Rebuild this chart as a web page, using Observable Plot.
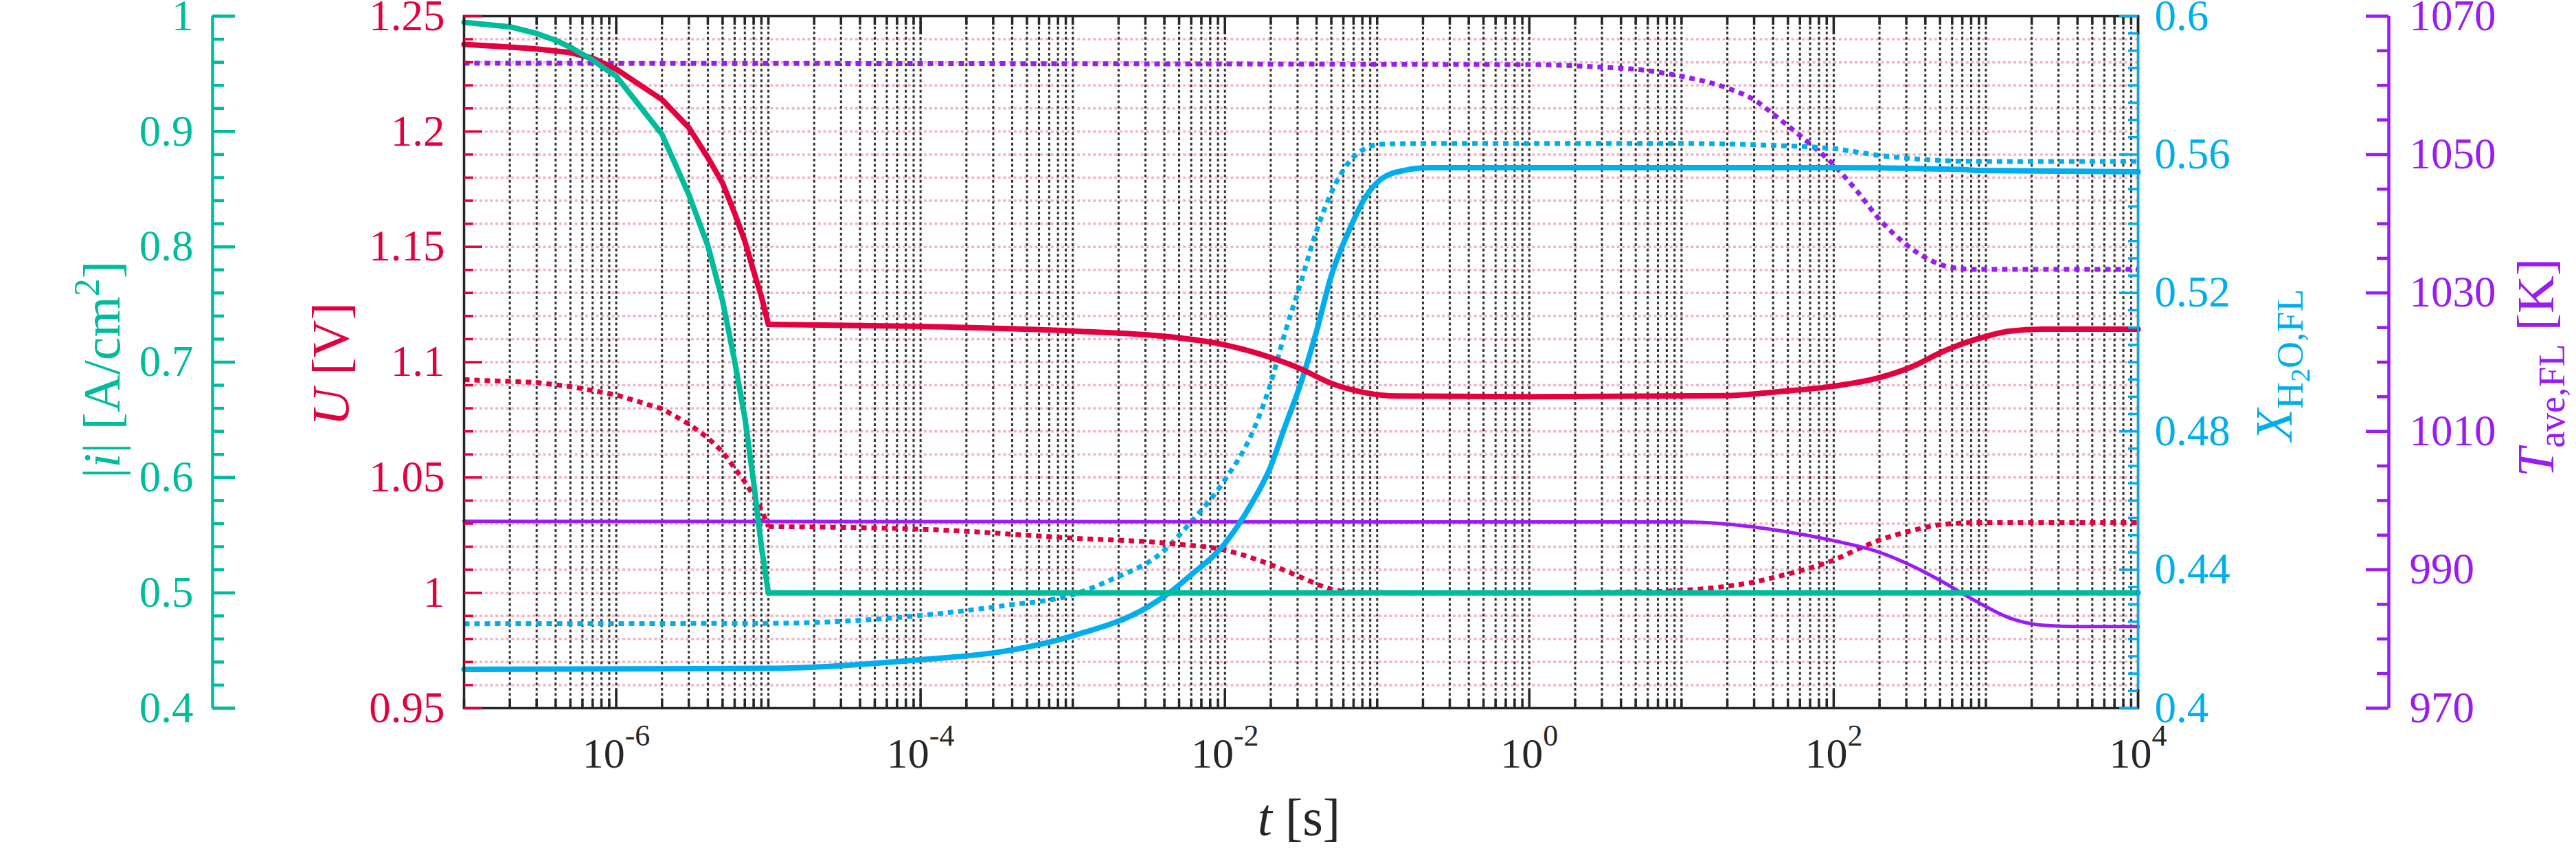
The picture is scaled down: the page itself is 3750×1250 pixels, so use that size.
<!DOCTYPE html>
<html><head><meta charset="utf-8">
<script src="https://cdn.jsdelivr.net/npm/d3@7"></script>
<script src="https://cdn.jsdelivr.net/npm/@observablehq/plot@0.6"></script>
<style>body{margin:0;background:#fff} svg{display:block}</style>
</head><body><div id="chart"></div>
<script>
// ---------- data ----------
// |i| [A/cm2] (solid)
const tI    = [1e-7, 2e-7, 3e-7, 4e-7, 5e-7, 6e-7, 7e-7, 8e-7, 9e-7, 1e-6, 2e-6, 3e-6, 4e-6, 5e-6, 6e-6, 7e-6, 8e-6, 9e-6, 1e-5, 1e-3, 1e4];
const iVals = [0.9946, 0.9908, 0.985, 0.979, 0.973, 0.967, 0.962, 0.9565, 0.952, 0.948, 0.8975, 0.8453, 0.801, 0.753, 0.701, 0.652, 0.596, 0.540, 0.500, 0.500, 0.500];
// U [V] solid
const tU    = [1e-7, 2e-7, 3e-7, 5e-7, 7e-7, 1e-6, 2e-6, 3e-6, 4e-6, 5e-6, 6e-6, 7e-6, 8e-6, 9e-6, 1e-5, 1e-4, 1e-3, 4.3e-3, 1e-2, 1.86e-2, 3.1e-2, 5e-2, 8.3e-2, 0.135, 1, 20, 43.6, 100, 195, 324, 525, 870, 1445, 2340, 1e4];
const uVals = [1.2378, 1.2366, 1.2358, 1.2342, 1.2318, 1.227, 1.2138, 1.2017, 1.1887, 1.1776, 1.1646, 1.1525, 1.1394, 1.1284, 1.1164, 1.1155, 1.1135, 1.111, 1.1075, 1.1027, 1.0973, 1.0908, 1.0868, 1.0853, 1.085, 1.0855, 1.0872, 1.0896, 1.0931, 1.0979, 1.1047, 1.110, 1.1135, 1.1143, 1.1143];
// U [V] dotted
const tUd    = [1e-7, 3e-7, 5e-7, 7e-7, 1e-6, 2e-6, 3e-6, 4e-6, 5e-6, 6e-6, 7e-6, 8e-6, 9e-6, 1e-5, 1e-4, 1e-3, 4.3e-3, 1e-2, 1.86e-2, 3.1e-2, 5e-2, 7e-2, 0.2, 1, 6, 20, 29.5, 43.6, 66, 100, 145, 195, 324, 525, 870, 1e4];
const udVals = [1.0924, 1.0912, 1.0894, 1.0877, 1.0858, 1.0798, 1.0732, 1.0672, 1.0611, 1.0541, 1.0481, 1.042, 1.036, 1.0287, 1.0276, 1.0237, 1.0214, 1.0185, 1.013, 1.007, 1.0016, 1.0003, 1.0, 1.0, 1.0005, 1.0029, 1.0046, 1.0072, 1.0103, 1.0142, 1.019, 1.0226, 1.0269, 1.0297, 1.0304, 1.0304];
// X_H2O,FL solid
const tX    = [1e-7, 1e-5, 1e-4, 3.5e-4, 1e-3, 3.1e-3, 4.3e-3, 5.8e-3, 1e-2, 1.48e-2, 1.97e-2, 2.5e-2, 3.1e-2, 4e-2, 5e-2, 6.5e-2, 8.3e-2, 0.107, 0.15, 0.22, 100, 700, 870, 1e4];
const xVals = [0.4112, 0.4115, 0.414, 0.4164, 0.4209, 0.4292, 0.4333, 0.438, 0.4476, 0.4588, 0.4692, 0.4818, 0.493, 0.509, 0.525, 0.5378, 0.5474, 0.553, 0.5554, 0.5562, 0.5562, 0.5557, 0.5554, 0.555];
// X_H2O,FL dotted
const tXd    = [1e-7, 1e-5, 1e-4, 3.5e-4, 1e-3, 1.8e-3, 3.9e-3, 5.9e-3, 1e-2, 1.48e-2, 1.97e-2, 2.5e-2, 3.1e-2, 4e-2, 5e-2, 6.5e-2, 8.3e-2, 0.107, 0.22, 10, 31.6, 100, 195, 417, 870, 1e4];
const xdVals = [0.4244, 0.4245, 0.4268, 0.4296, 0.4328, 0.4372, 0.4452, 0.4535, 0.466, 0.4787, 0.493, 0.509, 0.522, 0.538, 0.549, 0.5577, 0.5617, 0.563, 0.5632, 0.5632, 0.5628, 0.5617, 0.5598, 0.5585, 0.558, 0.558];
// T_ave,FL solid
const tT    = [1e-7, 10, 20, 29.5, 66, 100, 195, 324, 525, 870, 1445, 2340, 4000, 1e4];
const tVals = [997.0, 996.9, 996.6, 996.2, 995.0, 994.2, 992.6, 990.6, 988.2, 985.4, 983.0, 982.0, 981.8, 981.8];
// T_ave,FL dotted
const tTd    = [1e-7, 1, 2.6, 5.6, 10, 20, 29.5, 43.6, 66, 100, 145, 195, 288, 417, 589, 870, 1e4];
const tdVals = [1063.2, 1063.0, 1062.7, 1062.2, 1061.3, 1059.6, 1058.0, 1055.2, 1052.0, 1048.5, 1044.5, 1040.9, 1037.3, 1034.9, 1033.7, 1033.4, 1033.4];

// axis ticks / labels
const xLabelExps   = [-6, -4, -2, 0, 2, 4];
const xDecadeExps  = [-7, -6, -5, -4, -3, -2, -1, 0, 1, 2, 3];
const xMantissas   = [1, 2, 3, 4, 5, 6, 7, 8, 9];
const uMajor = [0.95, 1, 1.05, 1.1, 1.15, 1.2, 1.25];
const iMajor = [0.4, 0.5, 0.6, 0.7, 0.8, 0.9, 1];
const xMajor = [0.4, 0.44, 0.48, 0.52, 0.56, 0.6];
const tMajor = [970, 990, 1010, 1030, 1050, 1070];
const uMinorStep = 0.01, iMinorStep = 0.02, xMinorStep = 0.005, tMinorStep = 5;

// ---------- helpers ----------
const U_DOM = [0.95, 1.25], I_DOM = [0.4, 1], X_DOM = [0.4, 0.6], T_DOM = [970, 1070];
const toU = (v, dom) => U_DOM[0] + (v - dom[0]) / (dom[1] - dom[0]) * (U_DOM[1] - U_DOM[0]);
const rows = (ts, vs) => ts.map((t, k) => ({t, v: vs[k]}));
const range = (dom, step) => d3.range(Math.round((dom[1] - dom[0]) / step) + 1).map(k => +(dom[0] + k * step).toFixed(6));

const C_GREEN = "#00bc9c", C_RED = "#e4003f", C_CYAN = "#00aeef", C_PURPLE = "#9a1cf2", C_PINK = "#f4b2c6", C_BLACK = "#262626";
const FONT = "'Liberation Serif', 'Times New Roman', serif";

const W = 3750, H = 1250, ML = 675, MR = 638, MT = 23, MB = 220;
const PW = W - ML - MR, PH = H - MT - MB;

const xAll = [];
for (const e of xDecadeExps) for (const m of xMantissas) xAll.push(m * Math.pow(10, e));
const xLabelVals = xLabelExps.map(e => Math.pow(10, e));
const xGrid = xAll.filter(v => v > 1.0001e-7);
const xMinorTicks = xAll.filter(v => !xLabelVals.some(l => Math.abs(v / l - 1) < 1e-6));

const uMinor = range(U_DOM, uMinorStep).filter(v => !uMajor.some(m => Math.abs(m - v) < 1e-9));
const uGrid = range(U_DOM, uMinorStep).filter(v => v > 0.951 && v < 1.249);
const iMinor = range(I_DOM, iMinorStep).filter(v => !iMajor.some(m => Math.abs(m - v) < 1e-9));
const xMinor = range(X_DOM, xMinorStep).filter(v => !xMajor.some(m => Math.abs(m - v) < 1e-9));
const tMinor = range(T_DOM, tMinorStep).filter(v => !tMajor.some(m => Math.abs(m - v) < 1e-9));

const green = rows(tI, iVals).map(d => ({t: d.t, y: toU(d.v, I_DOM)}));
const redS  = rows(tU, uVals).map(d => ({t: d.t, y: d.v}));
const redD  = rows(tUd, udVals).map(d => ({t: d.t, y: d.v}));
const cyanS = rows(tX, xVals).map(d => ({t: d.t, y: toU(d.v, X_DOM)}));
const cyanD = rows(tXd, xdVals).map(d => ({t: d.t, y: toU(d.v, X_DOM)}));
const purS  = rows(tT, tVals).map(d => ({t: d.t, y: toU(d.v, T_DOM)}));
const purD  = rows(tTd, tdVals).map(d => ({t: d.t, y: toU(d.v, T_DOM)}));

const early = d => d.t <= 1.0001e-5, late = d => d.t >= 0.9999e-5;
const DOTTED = {strokeWidth: 7, strokeDasharray: "8,7", strokeLinecap: "butt", strokeLinejoin: "miter"};
const lineTwo = (data, opts) => [
  Plot.line(data.filter(early), {x: "t", y: "y", curve: "linear", ...opts}),
  Plot.line(data.filter(late), {x: "t", y: "y", curve: "monotone-x", ...opts})
];

const GX = 309 - ML;           // green axis offset
const PX = 3477 - (W - MR);    // purple axis offset
const FS = 63;

const fmt = v => String(v);
const txt = {fontFamily: FONT, fontSize: FS};

const chart = Plot.plot({
  width: W, height: H,
  marginLeft: ML, marginRight: MR, marginTop: MT, marginBottom: MB,
  x: {type: "log", domain: [1e-7, 1e4], axis: null},
  y: {domain: U_DOM, axis: null},
  style: {fontFamily: FONT, fontSize: FS + "px", background: "#fff", overflow: "visible"},
  marks: [
    // grid
    Plot.ruleY(uGrid, {stroke: C_PINK, strokeWidth: 3.5, strokeDasharray: "4,3.7"}),
    Plot.ruleX(xGrid, {stroke: "#333", strokeWidth: 3, strokeDasharray: "4,3.7"}),
    // dotted series
    Plot.line(purD, {x: "t", y: "y", curve: "monotone-x", stroke: C_PURPLE, ...DOTTED}),
    Plot.line(cyanD, {x: "t", y: "y", curve: "monotone-x", stroke: C_CYAN, ...DOTTED}),
    ...lineTwo(redD, {stroke: C_RED, ...DOTTED}),
    // solid series
    Plot.line(purS, {x: "t", y: "y", curve: "monotone-x", stroke: C_PURPLE, strokeWidth: 5}),
    Plot.line(cyanS, {x: "t", y: "y", curve: "monotone-x", stroke: C_CYAN, strokeWidth: 8}),
    ...lineTwo(redS, {stroke: C_RED, strokeWidth: 8}),
    ...lineTwo(green, {stroke: C_GREEN, strokeWidth: 8}),
    // frame
    Plot.frame({stroke: C_BLACK, strokeWidth: 3.5}),
    Plot.ruleX([1e4], {stroke: C_CYAN, strokeWidth: 3, insetTop: 20}),
    // x ticks (bottom + top)
    Plot.tickX(xLabelVals, {stroke: C_BLACK, strokeWidth: 3.5, insetTop: PH - 27}),
    Plot.tickX(xMinorTicks, {stroke: C_BLACK, strokeWidth: 3.5, insetTop: PH - 13}),
    Plot.tickX(xLabelVals, {stroke: C_BLACK, strokeWidth: 3.5, insetBottom: PH - 27}),
    Plot.tickX(xMinorTicks, {stroke: C_BLACK, strokeWidth: 3.5, insetBottom: PH - 13}),
    // red (U) axis on left frame edge
    Plot.tickY(uMajor, {y: d => d, stroke: C_RED, strokeWidth: 3.5, insetRight: PW - 27}),
    Plot.tickY(uMinor, {y: d => d, stroke: C_RED, strokeWidth: 3.5, insetRight: PW - 14}),
    Plot.text(uMajor, {y: d => d, text: fmt, frameAnchor: "left", dx: -28, textAnchor: "end", fill: C_RED, ...txt}),
    // cyan (X) axis on right frame edge
    Plot.tickY(xMajor, {y: d => toU(d, X_DOM), stroke: C_CYAN, strokeWidth: 3.5, insetLeft: PW - 27}),
    Plot.tickY(xMinor, {y: d => toU(d, X_DOM), stroke: C_CYAN, strokeWidth: 3.5, insetLeft: PW - 14}),
    Plot.text(xMajor, {y: d => toU(d, X_DOM), text: fmt, frameAnchor: "right", dx: 24, textAnchor: "start", fill: C_CYAN, ...txt}),
    // green (|i|) axis, offset left
    Plot.ruleX([1e-7], {dx: GX, stroke: C_GREEN, strokeWidth: 4.5}),
    Plot.tickY(iMajor, {y: d => toU(d, I_DOM), dx: GX, stroke: C_GREEN, strokeWidth: 4.5, insetRight: PW - 33}),
    Plot.tickY(iMinor, {y: d => toU(d, I_DOM), dx: GX, stroke: C_GREEN, strokeWidth: 4.5, insetRight: PW - 17}),
    Plot.text(iMajor, {y: d => toU(d, I_DOM), text: fmt, frameAnchor: "left", dx: GX - 28, textAnchor: "end", fill: C_GREEN, ...txt}),
    // purple (T) axis, offset right
    Plot.ruleX([1e4], {dx: PX, stroke: C_PURPLE, strokeWidth: 4.5}),
    Plot.tickY(tMajor, {y: d => toU(d, T_DOM), dx: PX, stroke: C_PURPLE, strokeWidth: 4.5, insetLeft: PW - 33}),
    Plot.tickY(tMinor, {y: d => toU(d, T_DOM), dx: PX, stroke: C_PURPLE, strokeWidth: 4.5, insetLeft: PW - 17}),
    Plot.text(tMajor, {y: d => toU(d, T_DOM), text: fmt, frameAnchor: "right", dx: PX + 30, textAnchor: "start", fill: C_PURPLE, ...txt}),
    // x tick labels
    Plot.text(xLabelExps, {x: e => Math.pow(10, e), text: e => "10^" + e, frameAnchor: "bottom", dy: 86, fill: C_BLACK, fontFamily: FONT, fontSize: 62})
  ]
});

document.getElementById("chart").appendChild(chart);

// superscripts for x tick labels
const svg = d3.select(chart);
svg.selectAll("text").each(function() {
  const m = /^10\^(-?\d+)$/.exec(this.textContent);
  if (!m) return;
  const el = d3.select(this);
  el.text(null);
  el.append("tspan").text("10");
  el.append("tspan").attr("dy", -32).attr("font-size", 44).text(m[1]);
});

// axis titles
const FT = 76;
function title(x, y, rotate, color, parts) {
  const t = svg.append("text")
    .attr("transform", `translate(${x},${y})` + (rotate ? " rotate(-90)" : ""))
    .attr("text-anchor", "middle").attr("dy", rotate ? "0.35em" : null)
    .attr("font-family", FONT)
    .attr("font-size", FT).attr("fill", color);
  for (const p of parts) {
    const s = t.append("tspan").text(p.s);
    if (p.i) s.attr("font-style", "italic");
    if (p.dy) s.attr("dy", p.dy);
    if (p.fs) s.attr("font-size", p.fs);
  }
}
title(147, 538, true, C_GREEN, [{s: "|"}, {s: "i", i: 1}, {s: "| [A/cm"}, {s: "2", dy: -30, fs: 52}, {s: "]", dy: 30}]);
title(480, 530, true, C_RED, [{s: "U", i: 1}, {s: " [V]"}]);
title(1891, 1215, false, C_BLACK, [{s: "t", i: 1}, {s: " [s]"}]);
title(3309, 531, true, C_CYAN, [{s: "X", i: 1}, {s: "H", dy: 16, fs: 54}, {s: "2", dy: 10, fs: 40}, {s: "O,FL", dy: -10, fs: 54}]);
title(3690, 535, true, C_PURPLE, [{s: "T", i: 1}, {s: "ave,FL", dy: 16, fs: 54}, {s: " [K]", dy: -16}]);
</script>
</body></html>
